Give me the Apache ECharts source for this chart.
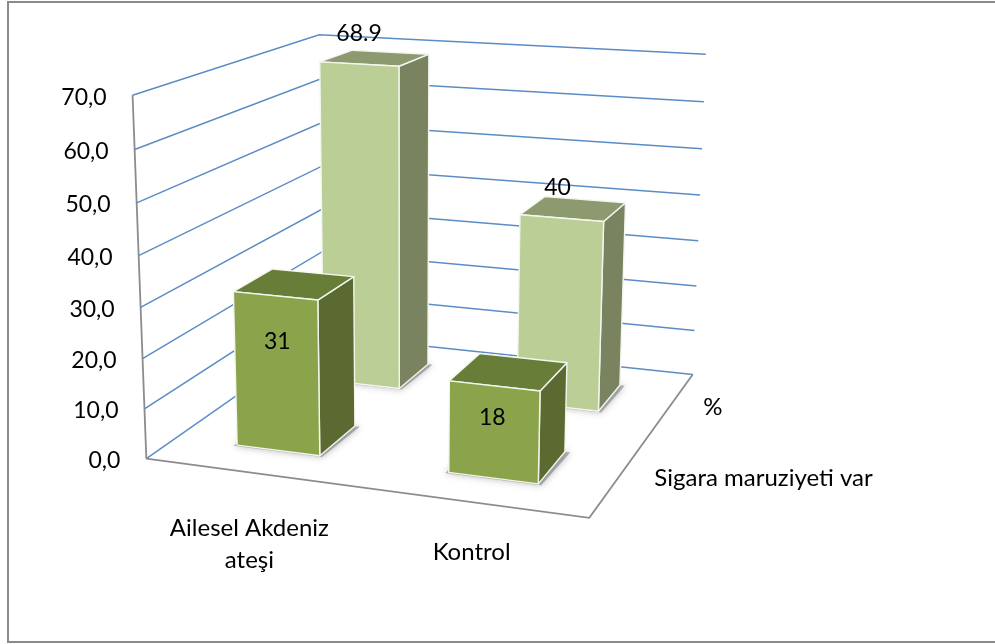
<!DOCTYPE html>
<html>
<head>
<meta charset="utf-8">
<style>html,body{margin:0;padding:0;background:#fff}#chart{width:995px;height:644px}</style>
<script src="https://cdn.jsdelivr.net/npm/echarts@6/dist/echarts.min.js"></script>
</head>
<body>
<div id="chart"></div>
<script>
// Chart data
var categories = ['Ailesel Akdeniz\nateşi', 'Kontrol'];
var smokeExposure = [31, 18];
var percentage = [68.9, 40];
var tickValues = [0, 10, 20, 30, 40, 50, 60, 70];
var tickLabels = ['0,0', '10,0', '20,0', '30,0', '40,0', '50,0', '60,0', '70,0'];
var depthNames = ['Sigara maruziyeti var', '%'];

var FONT = 'Lato, "Open Sans", sans-serif';
var YMAX = 70;

// Camera calibration: known cube locations [x, y, z] and where they land on the canvas.
var anchors = [
  [0, 0, 0, 146, 459], [1, 0, 0, 589, 518], [1, 0, 1, 693, 374],
  [0, 1, 0, 132, 95], [0, 1, 1, 319, 35], [1, 1, 1, 706, 54],
  [0, 3 / 7, 0, 141, 307], [0, 5 / 7, 0, 137.5, 203],
  [1, 3 / 7, 1, 698, 241], [1, 5 / 7, 1, 702, 149]
];

// Least-squares fit of a 3x4 projective camera with the last element fixed at 1.
function solveCamera(pts) {
  var rows = [], rhs = [];
  pts.forEach(function (p) {
    var x = p[0], y = p[1], z = p[2], u = p[3], v = p[4];
    rows.push([x, y, z, 1, 0, 0, 0, 0, -u * x, -u * y, -u * z]); rhs.push(u);
    rows.push([0, 0, 0, 0, x, y, z, 1, -v * x, -v * y, -v * z]); rhs.push(v);
  });
  var n = 11, M = [];
  for (var i = 0; i < n; i++) {
    M.push([]);
    for (var j = 0; j <= n; j++) {
      var s = 0;
      for (var r = 0; r < rows.length; r++) s += rows[r][i] * (j < n ? rows[r][j] : rhs[r]);
      M[i].push(s);
    }
  }
  for (var c = 0; c < n; c++) {
    var best = c;
    for (var q = c + 1; q < n; q++) if (Math.abs(M[q][c]) > Math.abs(M[best][c])) best = q;
    var t = M[c]; M[c] = M[best]; M[best] = t;
    for (var k = 0; k < n; k++) {
      if (k === c) continue;
      var f = M[k][c] / M[c][c];
      for (var m = c; m <= n; m++) M[k][m] -= f * M[c][m];
    }
  }
  return M.map(function (row, idx) { return row[n] / row[idx]; });
}
var cam = solveCamera(anchors);
function project(x, y, z) {
  var w = cam[8] * x + cam[9] * y + cam[10] * z + 1;
  return [(cam[0] * x + cam[1] * y + cam[2] * z + cam[3]) / w,
          (cam[4] * x + cam[5] * y + cam[6] * z + cam[7]) / w];
}

// Normalised position along each axis.
function heightFrac(api, v) { return 1 - api.coord([0, v])[1] / api.getHeight(); }
function catFrac(api, i) { return api.coord([i, 0])[0] / api.getWidth(); }

function line(pts, color, width) {
  return { type: 'polyline', shape: { points: pts }, style: { stroke: color, lineWidth: width, fill: null } };
}
function label(text, x, y, size) {
  return { type: 'text', style: { text: text, x: x, y: y, fill: '#000', font: size + 'px ' + FONT,
    align: 'center', verticalAlign: 'middle', lineHeight: 32 } };
}

var GRID = '#5b8cc6', AXIS = '#8c8c8c', EDGE = '#f4f6ee';
var HALF_X = 0.1, HALF_Z = 0.104;

// Walls, gridlines and tick labels
function renderTick(params, api) {
  var i = params.dataIndex, h = heightFrac(api, api.value(1));
  var kids = [line([project(0, h, 0), project(0, h, 1), project(1, h, 1)], GRID, 1.5)];
  var at = project(0, h, 0);
  kids.push({ type: 'text', style: { text: tickLabels[i], x: at[0] - 26, y: at[1] + 2, fill: '#000',
    font: '23px ' + FONT, align: 'right', verticalAlign: 'middle' } });
  if (i === 0) {
    kids.push(line([project(0, 0, 0), project(0, 1, 0)], AXIS, 1.8));
    kids.push(line([project(0, 0, 0), project(1, 0, 0), project(1, 0, 1)], AXIS, 1.8));
    categories.forEach(function (c, k) {
      var off = k === 0 ? [-1, 72] : [0, 50];
      var f = project(catFrac(api, k), 0, 0);
      kids.push(label(c, f[0] + off[0], f[1] + off[1], 24));
    });
    var dOff = [[144, 2], [42, 2]];
    depthNames.forEach(function (d, k) {
      var b = project(1, 0, (k + 0.5) / 2);
      kids.push(label(d, b[0] + dOff[k][0], b[1] + dOff[k][1], 24));
    });
  }
  return { type: 'group', children: kids };
}

// Value label offsets from the middle of each bar's top front edge
var labelShift = { 0: [[2, 46], [-2, 32]], 1: [[0, -30], [-4, -31]] };
var paints = {
  0: { front: '#8ba44c', top: '#677d38', side: '#5a6a30' },
  1: { front: '#bace96', top: '#8d9a6f', side: '#79835f' }
};

function renderBar(depthIndex) {
  return function (params, api) {
    var i = api.value(0), v = api.value(1), h = heightFrac(api, v);
    var cx = catFrac(api, i), cz = (depthIndex + 0.5) / 2;
    var x0 = cx - HALF_X, x1 = cx + HALF_X, z0 = cz - HALF_Z, z1 = cz + HALF_Z;
    var p = paints[depthIndex];
    function face(a, color) {
      return { type: 'polygon', shape: { points: a },
        style: { fill: color, stroke: EDGE, lineWidth: 1.4, lineJoin: 'round' } };
    }
    var shadow = { type: 'polygon',
      shape: { points: [project(x0 - 0.006, 0, z0 - 0.006), project(x1 + 0.008, 0, z0 - 0.006),
                        project(x1 + 0.012, 0, z1), project(x0, 0, z1)] },
      style: { fill: 'rgba(120,120,120,0.55)', shadowBlur: 7, shadowColor: 'rgba(90,90,90,0.75)' } };
    var top = project((x0 + x1) / 2, h, z0);
    var sh = labelShift[depthIndex][i];
    return { type: 'group', children: [
      shadow,
      face([project(x1, 0, z0), project(x1, 0, z1), project(x1, h, z1), project(x1, h, z0)], p.side),
      face([project(x0, h, z0), project(x1, h, z0), project(x1, h, z1), project(x0, h, z1)], p.top),
      face([project(x0, 0, z0), project(x1, 0, z0), project(x1, h, z0), project(x0, h, z0)], p.front),
      label(String(v), top[0] + sh[0], top[1] + sh[1], 23)
    ] };
  };
}

var chart = echarts.init(document.getElementById('chart'), null, { renderer: 'canvas' });
chart.setOption({
  animation: false,
  backgroundColor: '#fff',
  grid: { left: 0, right: 0, top: 0, bottom: 0 },
  xAxis: { type: 'category', data: categories, show: false },
  yAxis: { type: 'value', min: 0, max: YMAX, show: false },
  tooltip: { show: false },
  graphic: [{ type: 'rect', silent: true, shape: { x: 8, y: 2, width: 1040, height: 640 },
    style: { fill: null, stroke: '#8a8a8a', lineWidth: 2 } }],
  series: [
    { type: 'custom', name: 'ticks', clip: false, silent: true, encode: { x: 0, y: 1 },
      data: tickValues.map(function (v) { return [0, v]; }), renderItem: renderTick },
    { type: 'custom', name: depthNames[1], clip: false, silent: true, encode: { x: 0, y: 1 },
      data: percentage.map(function (v, i) { return [i, v]; }), renderItem: renderBar(1) },
    { type: 'custom', name: depthNames[0], clip: false, silent: true, encode: { x: 0, y: 1 },
      data: smokeExposure.map(function (v, i) { return [i, v]; }), renderItem: renderBar(0) }
  ]
});
</script>
</body>
</html>
